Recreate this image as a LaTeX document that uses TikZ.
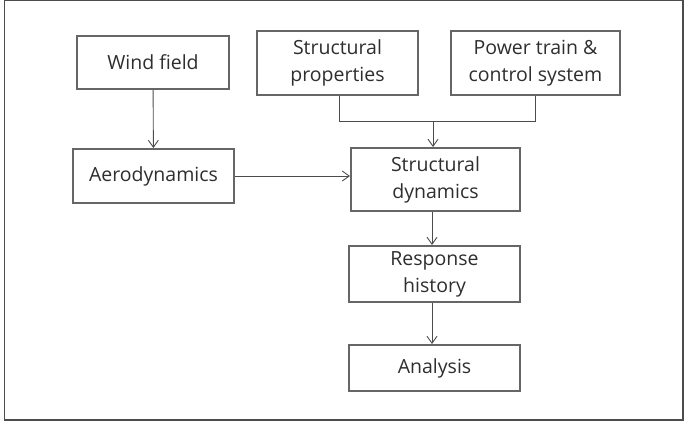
\documentclass[tikz,border=0pt]{standalone}
\usepackage{fontspec}
\setmainfont{Open Sans}
\usetikzlibrary{arrows.meta}
\begin{document}
\begin{tikzpicture}[x=1pt,y=-1pt,
  box/.style={draw=gray!80!black, line width=2pt, fill=white, inner sep=0pt, align=center, font=\fontsize{19.5}{27}\selectfont, text=black!82},
  conn/.style={draw=black!70, line width=0.9pt},
  arr/.style={conn, -{Straight Barb[length=7pt,width=10pt,line width=0.9pt]}}]
\useasboundingbox (0,0) rectangle (696,426);
\draw[draw=black!70, line width=1.4pt] (4.5,0.5) rectangle (683,420);
\node[box, minimum width=152pt, minimum height=53pt] (wind) at (153,62.5) {Wind field};
\node[box, minimum width=161pt, minimum height=54pt] (aero) at (153.5,176) {Aerodynamics};
\node[box, minimum width=161pt, minimum height=64pt] (sprop) at (337.5,63) {Structural\\properties};
\node[box, minimum width=169pt, minimum height=64pt] (power) at (535.5,63) {Power train \&\\control system};
\node[box, minimum width=169pt, minimum height=63pt] (sdyn) at (435.5,179.5) {Structural\\dynamics};
\node[box, minimum width=171pt, minimum height=56pt] (resp) at (434.5,274) {Response\\history};
\node[box, minimum width=171pt, minimum height=46pt] (anal) at (434.5,368) {Analysis};
\coordinate (j) at (433,121);
\draw[conn] (sprop.south -| 339,0) |- (j);
\draw[conn] (power.south) |- (j);
\draw[arr] (j) -- (j |- sdyn.north);
\draw[arr] (wind) -- (aero);
\draw[arr] (aero) -- (aero -| sdyn.west);
\draw[arr] (sdyn.south -| 432,0) -- (resp.north -| 432,0);
\draw[arr] (resp.south -| 432,0) -- (anal.north -| 432,0);
\end{tikzpicture}
\end{document}
